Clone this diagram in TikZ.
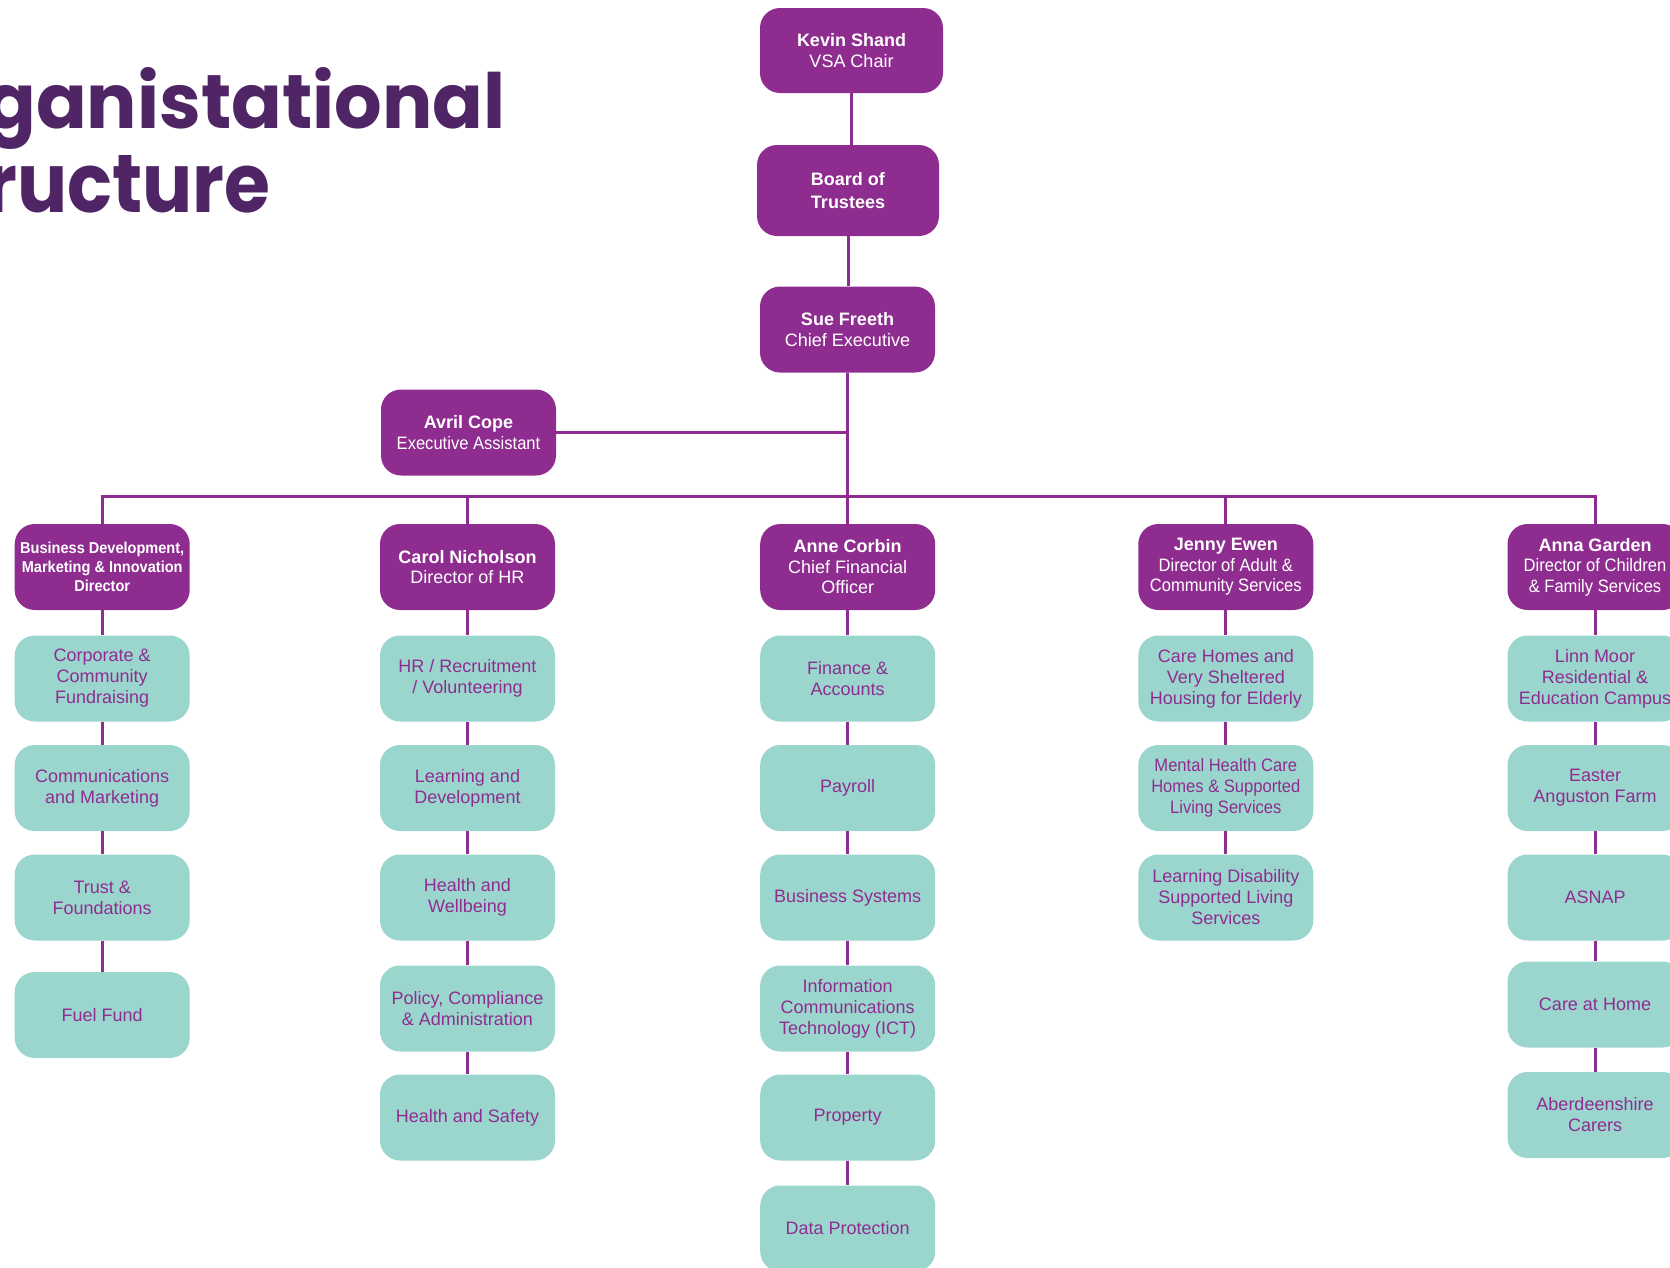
\documentclass[tikz,border=0pt]{standalone}
\usepackage{fontspec}
\setmainfont{Liberation Sans}
\newfontfamily\titlefont{Poppins}
\newfontfamily\condfont{Liberation Sans}[FakeStretch=0.92]
\definecolor{plum}{HTML}{8E2D8F}
\definecolor{mint}{HTML}{9BD6CE}
\definecolor{titleplum}{HTML}{4F2566}
\begin{document}
\begin{tikzpicture}[x=1pt,y=-1pt,
  lead/.style={fill=plum, text=white, rounded corners=20pt, minimum width=175pt, minimum height=86pt, align=center, inner sep=0pt, font=\fontsize{18}{20.5}\selectfont},
  unit/.style={fill=mint, text=plum, rounded corners=20pt, minimum width=175pt, minimum height=86pt, align=center, inner sep=0pt, font=\fontsize{18}{21}\selectfont},
  link/.style={draw=plum, line width=3pt},
  titletext/.style={anchor=base west, inner sep=0pt, text=titleplum, font=\titlefont\bfseries}]
\useasboundingbox (0,0) rectangle (1670,1267);
\clip (0,0) rectangle (1670,1267);

% title
\node[titletext] (t1) at (-15,128) {\resizebox{520pt}{61pt}{ganistational}};
\node[titletext] (t2) at (-15,212) {\resizebox{285pt}{57pt}{ructure}};

% top chain
\node[lead, minimum width=183pt, minimum height=85pt] (kev) at (851.5,50.5) {\textbf{Kevin Shand}\\VSA Chair};
\node[lead, minimum width=182pt, minimum height=91pt, font=\fontsize{18}{23}\selectfont] (brd) at (848,190.5) {\textbf{Board of}\\\textbf{Trustees}};
\node[lead] (sue) at (847.5,329.5) {\textbf{Sue Freeth}\\Chief Executive};
\node[lead] (avr) at (468.5,432.5) {\textbf{Avril Cope}\\{\condfont Executive Assistant}};

% directors
\node[lead, font=\condfont\bfseries\fontsize{15.8}{19}\selectfont] (bd) at (102.2,567) {Business Development,\\Marketing \& Innovation\\Director};
\node[lead] (hr) at (467.5,567) {\textbf{Carol Nicholson}\\Director of HR};
\node[lead] (cf) at (847.7,567) {\textbf{Anne Corbin}\\Chief Financial\\Officer};
\node[lead] (je) at (1225.8,567) {\textbf{Jenny Ewen}\\{\condfont Director of Adult \&}\\{\condfont Community Services}};
\node[lead] (ag) at (1595,567) {\textbf{Anna Garden}\\{\condfont Director of Children}\\{\condfont \& Family Services}};

% column 1
\node[unit] (c1a) at (102.2,678.5) {Corporate \&\\Community\\Fundraising};
\node[unit] (c1b) at (102.2,788) {Communications\\and Marketing};
\node[unit] (c1c) at (102.2,897.5) {Trust \&\\Foundations};
\node[unit] (c1d) at (102.2,1015) {Fuel Fund};

% column 2
\node[unit] (c2a) at (467.5,678.5) {HR / Recruitment\\/ Volunteering};
\node[unit] (c2b) at (467.5,788) {Learning and\\Development};
\node[unit] (c2c) at (467.5,897.5) {Health and\\Wellbeing};
\node[unit] (c2d) at (467.5,1008.5) {Policy, Compliance\\\& Administration};
\node[unit] (c2e) at (467.5,1117.5) {Health and Safety};

% column 3
\node[unit] (c3a) at (847.7,678.5) {Finance \&\\Accounts};
\node[unit] (c3b) at (847.7,788) {Payroll};
\node[unit] (c3c) at (847.7,897.5) {Business Systems};
\node[unit] (c3d) at (847.7,1008.5) {Information\\Communications\\Technology (ICT)};
\node[unit] (c3e) at (847.7,1117.5) {Property};
\node[unit] (c3f) at (847.7,1228.5) {Data Protection};

% column 4
\node[unit] (c4a) at (1225.8,678.5) {Care Homes and\\Very Sheltered\\Housing for Elderly};
\node[unit, font=\condfont\fontsize{18}{21}\selectfont] (c4b) at (1225.8,788) {Mental Health Care\\Homes \& Supported\\Living Services};
\node[unit] (c4c) at (1225.8,897.5) {Learning Disability\\Supported Living\\Services};

% column 5
\node[unit] (c5a) at (1595,678.5) {Linn Moor\\Residential \&\\Education Campus};
\node[unit] (c5b) at (1595,788) {Easter\\Anguston Farm};
\node[unit] (c5c) at (1595,897.5) {ASNAP};
\node[unit] (c5d) at (1595,1004.5) {Care at Home};
\node[unit] (c5e) at (1595,1115) {Aberdeenshire\\Carers};

% connectors
\coordinate (bar) at (0,496);
\draw[link] (kev.south) -- (kev.south |- brd.north);
\draw[link] (brd.south) -- (brd.south |- sue.north);
\draw[link] (sue.south) -- (sue.south |- cf.north);
\draw[link] (avr.east) -- (avr.east -| sue.south);
\draw[link] (bd.north) -- (bd.north |- bar) -- (ag.north |- bar) -- (ag.north);
\draw[link] (hr.north) -- (hr.north |- bar);
\draw[link] (je.north) -- (je.north |- bar);

\draw[link] (bd.south) -- (c1a.north);
\draw[link] (c1a.south) -- (c1b.north);
\draw[link] (c1b.south) -- (c1c.north);
\draw[link] (c1c.south) -- (c1d.north);

\draw[link] (hr.south) -- (c2a.north);
\draw[link] (c2a.south) -- (c2b.north);
\draw[link] (c2b.south) -- (c2c.north);
\draw[link] (c2c.south) -- (c2d.north);
\draw[link] (c2d.south) -- (c2e.north);

\draw[link] (cf.south) -- (c3a.north);
\draw[link] (c3a.south) -- (c3b.north);
\draw[link] (c3b.south) -- (c3c.north);
\draw[link] (c3c.south) -- (c3d.north);
\draw[link] (c3d.south) -- (c3e.north);
\draw[link] (c3e.south) -- (c3f.north);

\draw[link] (je.south) -- (c4a.north);
\draw[link] (c4a.south) -- (c4b.north);
\draw[link] (c4b.south) -- (c4c.north);

\draw[link] (ag.south) -- (c5a.north);
\draw[link] (c5a.south) -- (c5b.north);
\draw[link] (c5b.south) -- (c5c.north);
\draw[link] (c5c.south) -- (c5d.north);
\draw[link] (c5d.south) -- (c5e.north);
\end{tikzpicture}
\end{document}
